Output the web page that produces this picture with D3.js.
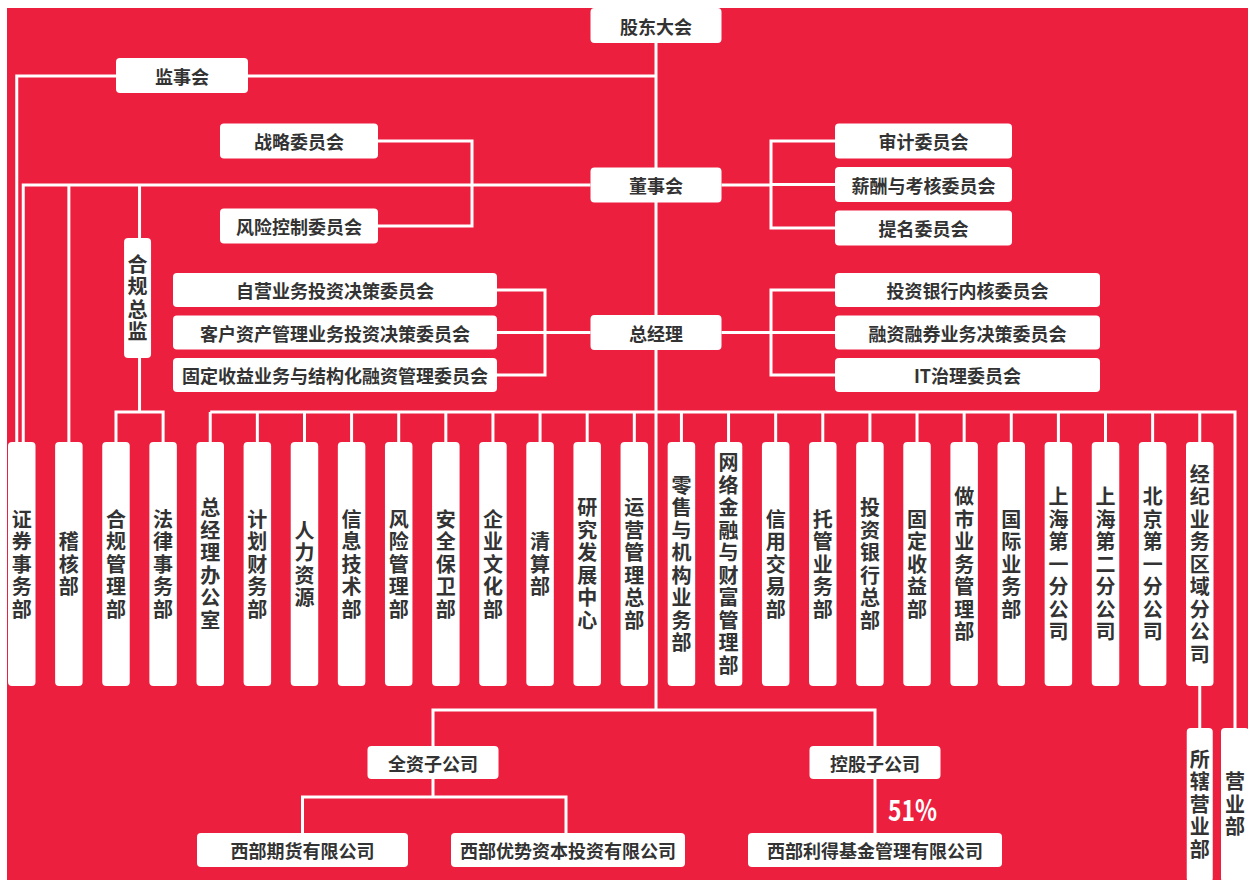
<!DOCTYPE html>
<html>
<head>
<meta charset="utf-8">
<script src="https://cdn.jsdelivr.net/npm/d3@7"></script>
<style>
  body { margin: 0; background: #fff; }
  text { font-family: "Noto Sans CJK SC", "Noto Sans", sans-serif; }
</style>
</head>
<body>
<div id="chart"></div>
<script>
// org chart values
const topChain = ["股东大会", "董事会", "总经理"]
const supervisors = ["监事会"]
const boardLeft = ["战略委员会", "风险控制委员会"]
const boardRight = ["审计委员会", "薪酬与考核委员会", "提名委员会"]
const gmLeft = ["自营业务投资决策委员会", "客户资产管理业务投资决策委员会", "固定收益业务与结构化融资管理委员会"]
const gmRight = ["投资银行内核委员会", "融资融券业务决策委员会", "IT治理委员会"]
const compliance = ["合规总监"]
const departments = ["证券事务部", "稽核部", "合规管理部", "法律事务部", "总经理办公室", "计划财务部",
  "人力资源", "信息技术部", "风险管理部", "安全保卫部", "企业文化部", "清算部", "研究发展中心",
  "运营管理总部", "零售与机构业务部", "网络金融与财富管理部", "信用交易部", "托管业务部",
  "投资银行总部", "固定收益部", "做市业务管理部", "国际业务部", "上海第一分公司",
  "上海第二分公司", "北京第一分公司", "经纪业务区域分公司"]
const branchUnits = ["所辖营业部", "营业部"]
const subsidiaryTypes = ["全资子公司", "控股子公司"]
const whollyOwned = ["西部期货有限公司", "西部优势资本投资有限公司"]
const controlled = ["西部利得基金管理有限公司"]
const controlledShare = ["51%"]

const RED = "#ec1f3e"
const INK = "#333333"

let svg = d3.select("#chart")
    .append("svg")
    .attr("width", 1248)
    .attr("height", 880)

svg.append("rect")
    .attr("x", 7).attr("y", 8)
    .attr("width", 1241).attr("height", 872)
    .attr("fill", RED)

let lineLayer = svg.append("g")
    .attr("fill", "none")
    .attr("stroke", "#fff")
    .attr("stroke-width", 3)
let boxLayer = svg.append("g")

let line = d3.line()
function link(pts) {
    lineLayer.append("path").attr("d", line(pts))
}

// horizontal box with centred label
function hbox(cx, cy, w, h, label) {
    boxLayer.append("rect")
        .attr("x", cx - w / 2).attr("y", cy - h / 2)
        .attr("width", w).attr("height", h)
        .attr("rx", 4)
        .attr("fill", "#fff")
    boxLayer.append("text")
        .attr("x", cx).attr("y", cy)
        .attr("text-anchor", "middle")
        .attr("dominant-baseline", "central")
        .attr("font-size", 18)
        .attr("font-weight", "bold")
        .attr("fill", INK)
        .text(label)
}

// vertical box, label written top to bottom
function vbox(cx, y0, y1, w, label, midY) {
    boxLayer.append("rect")
        .attr("x", cx - w / 2).attr("y", y0)
        .attr("width", w).attr("height", y1 - y0)
        .attr("rx", 4)
        .attr("fill", "#fff")
    let mid = midY == null ? (y0 + y1) / 2 : midY
    boxLayer.append("text")
        .attr("x", cx)
        .attr("y", mid + 1.25)
        .attr("text-anchor", "middle")
        .style("writing-mode", "vertical-rl")
        .style("text-orientation", "upright")
        .style("letter-spacing", "2.5px")
        .attr("font-size", 20)
        .attr("font-weight", "bold")
        .attr("fill", INK)
        .text(label)
}

// layout
const spineX = 656
const chainPos = d3.scaleOrdinal().domain(topChain).range([25.5, 185, 332.5])
const boxW = 131, boxH = 35

const deptX = d3.scalePoint().domain(departments).range([21.75, 1199.75])
const deptTop = 442, deptBottom = 686, deptW = 27.5
const busY = 412

const boardLeftY = d3.scalePoint().domain(boardLeft).range([141, 226])
const boardRightY = d3.scalePoint().domain(boardRight).range([141, 228])
const gmLeftY = d3.scalePoint().domain(gmLeft).range([290, 375])
const gmRightY = d3.scalePoint().domain(gmRight).range([290, 375])

const supY = 76
const cmpX = (deptX(departments[2]) + deptX(departments[3])) / 2
const subX = d3.scaleOrdinal().domain(subsidiaryTypes).range([433, 875])
const whollyX = d3.scaleOrdinal().domain(whollyOwned).range([302.5, 568])
const whollyW = d3.scaleOrdinal().domain(whollyOwned).range([211, 234])

// ---- connectors ----
link([[spineX, 43], [spineX, 710]])

// supervisors line to 证券事务部
let d0 = deptX(departments[0])
link([[d0 - 5, deptTop], [d0 - 5, supY], [spineX, supY]])
// board line with 证券事务部, 稽核部, 合规总监
link([[d0 + 1.5, deptTop], [d0 + 1.5, 185], [spineX - boxW / 2, 185]])
link([[deptX(departments[1]), 185], [deptX(departments[1]), deptTop]])
link([[cmpX, 185], [cmpX, 238]])
link([[cmpX, 358], [cmpX, busY]])
link([[deptX(departments[2]), deptTop], [deptX(departments[2]), busY],
      [deptX(departments[3]), busY], [deptX(departments[3]), deptTop]])

// board committees
link([[378, boardLeftY(boardLeft[0])], [472, boardLeftY(boardLeft[0])],
      [472, boardLeftY(boardLeft[1])], [378, boardLeftY(boardLeft[1])]])
link([[spineX + boxW / 2, 185], [771, 185]])
link([[835, boardRightY(boardRight[0])], [771, boardRightY(boardRight[0])],
      [771, boardRightY(boardRight[2])], [835, boardRightY(boardRight[2])]])
link([[771, boardRightY(boardRight[1])], [835, boardRightY(boardRight[1])]])

// general manager committees
link([[497, gmLeftY(gmLeft[0])], [545, gmLeftY(gmLeft[0])],
      [545, gmLeftY(gmLeft[2])], [497, gmLeftY(gmLeft[2])]])
link([[497, gmLeftY(gmLeft[1])], [spineX - boxW / 2, gmLeftY(gmLeft[1])]])
link([[spineX + boxW / 2, gmRightY(gmRight[1])], [835, gmRightY(gmRight[1])]])
link([[835, gmRightY(gmRight[0])], [771, gmRightY(gmRight[0])],
      [771, gmRightY(gmRight[2])], [835, gmRightY(gmRight[2])]])

// department bus
link([[deptX(departments[4]), busY], [1235, busY], [1235, 728]])
departments.slice(4).forEach(d => {
    link([[deptX(d), busY], [deptX(d), deptTop]])
})
let lastX = deptX(departments[departments.length - 1])
link([[lastX, deptBottom], [lastX, 728]])

// subsidiaries
link([[subX(subsidiaryTypes[0]), 746], [subX(subsidiaryTypes[0]), 710],
      [subX(subsidiaryTypes[1]), 710], [subX(subsidiaryTypes[1]), 746]])
link([[subX(subsidiaryTypes[0]), 779], [subX(subsidiaryTypes[0]), 797]])
link([[whollyX(whollyOwned[0]), 833], [whollyX(whollyOwned[0]), 797],
      [whollyX(whollyOwned[1]) - 2, 797], [whollyX(whollyOwned[1]) - 2, 833]])
link([[subX(subsidiaryTypes[1]), 779], [subX(subsidiaryTypes[1]), 833]])

// ---- boxes ----
topChain.forEach(d => hbox(spineX, chainPos(d), boxW, boxH, d))
supervisors.forEach(d => hbox(182, 75.5, 132, 35, d))
boardLeft.forEach(d => hbox(299, boardLeftY(d), 158, 35, d))
boardRight.forEach(d => hbox(923.5, boardRightY(d), 177, 35, d))
gmLeft.forEach(d => hbox(335, gmLeftY(d), 324, 34, d))
gmRight.forEach(d => hbox(967.5, gmRightY(d), 265, 34, d))
compliance.forEach(d => vbox(cmpX - 2, 238, 358, 27, d))

departments.forEach(d => vbox(deptX(d), deptTop, deptBottom, deptW, d))

vbox(lastX, 728, 882, 26, branchUnits[0], 804)
vbox(1235, 728, 882, 28, branchUnits[1], 804)

subsidiaryTypes.forEach(d => hbox(subX(d), 762.5, 131, 33, d))
whollyOwned.forEach(d => hbox(whollyX(d), 850, whollyW(d), 34, d))
controlled.forEach(d => hbox(subX(subsidiaryTypes[1]), 850, 254, 34, d))

svg.selectAll(null)
    .data(controlledShare)
    .join("text")
    .attr("x", 888)
    .attr("y", 808)
    .attr("dominant-baseline", "central")
    .attr("font-family", "'Liberation Sans', Arial, sans-serif")
    .attr("font-size", 29)
    .attr("font-weight", "bold")
    .attr("textLength", 49)
    .attr("lengthAdjust", "spacingAndGlyphs")
    .attr("fill", "#fff")
    .text(d => d)
</script>
</body>
</html>
